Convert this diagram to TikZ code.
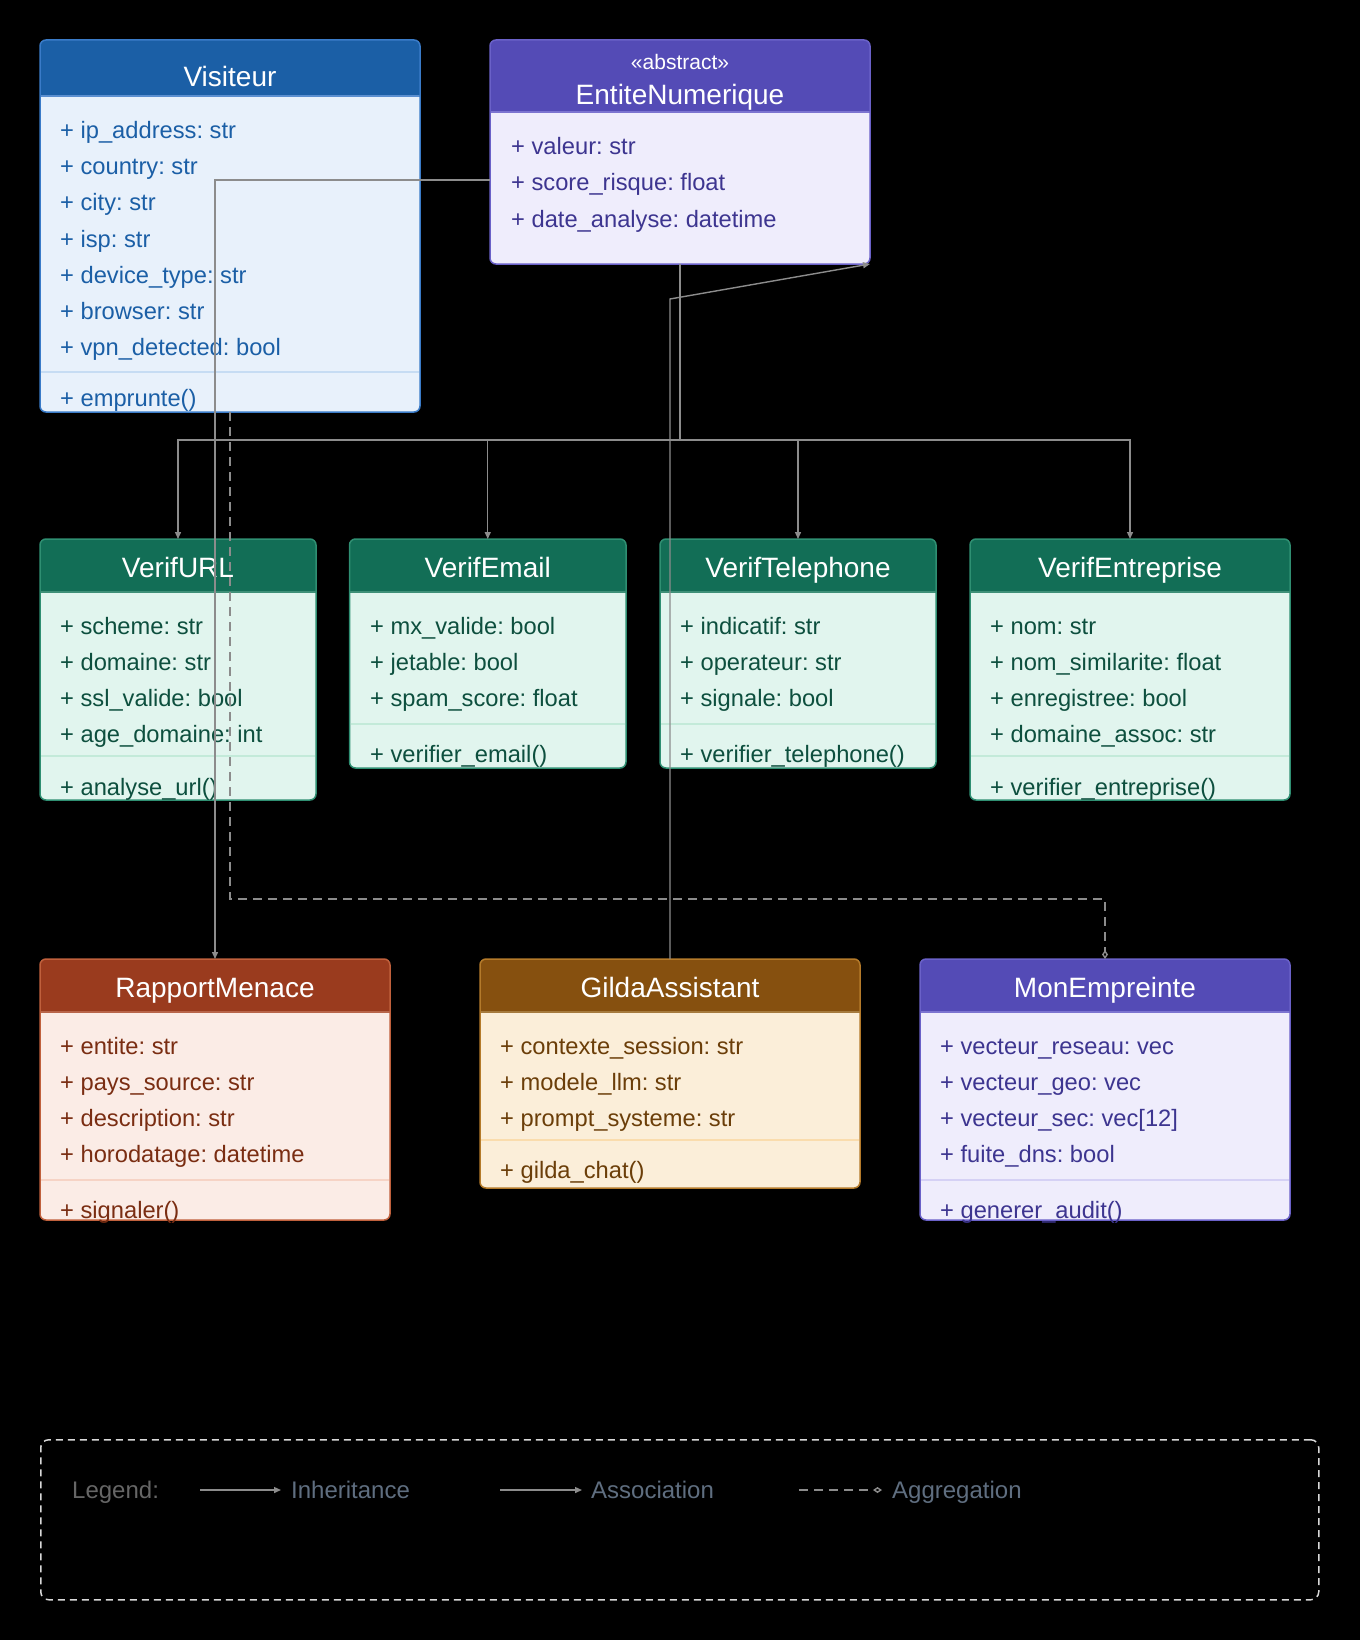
\documentclass[tikz,border=0pt]{standalone}
\usepackage{fontspec}
\setmainfont{Liberation Sans}
\usetikzlibrary{arrows.meta}
\frenchspacing
\definecolor{visbg}{HTML}{E8F1FB}\definecolor{visbd}{HTML}{3A7BC8}\definecolor{vishd}{HTML}{1B5FA6}
\definecolor{vistx}{HTML}{1B5FA6}\definecolor{vissp}{HTML}{C6DCF3}\definecolor{vishl}{HTML}{5B8FD0}
\definecolor{entbg}{HTML}{EFEDFC}\definecolor{entbd}{HTML}{6A61C8}\definecolor{enthd}{HTML}{544BB6}
\definecolor{enttx}{HTML}{3D3590}\definecolor{entsp}{HTML}{D5D1F5}\definecolor{enthl}{HTML}{7C74D0}
\definecolor{verbg}{HTML}{E1F5EE}\definecolor{verbd}{HTML}{2F8F72}\definecolor{verhd}{HTML}{126E56}
\definecolor{vertx}{HTML}{0D4F3E}\definecolor{versp}{HTML}{C3EAD9}\definecolor{verhl}{HTML}{3E8F77}
\definecolor{rapbg}{HTML}{FBECE6}\definecolor{rapbd}{HTML}{C0603C}\definecolor{raphd}{HTML}{9A3B1E}
\definecolor{raptx}{HTML}{7A2D12}\definecolor{rapsp}{HTML}{F6D3C5}\definecolor{raphl}{HTML}{B8654A}
\definecolor{gilbg}{HTML}{FBEED9}\definecolor{gilbd}{HTML}{B47A2A}\definecolor{gilhd}{HTML}{86500F}
\definecolor{giltx}{HTML}{6B3E09}\definecolor{gilsp}{HTML}{FADCAD}\definecolor{gilhl}{HTML}{A57A3E}
\definecolor{cgray}{HTML}{8C8C8C}
\definecolor{legbd}{HTML}{D8D8D8}
\definecolor{legtx}{HTML}{666666}
\definecolor{legtxb}{HTML}{5F6E80}
\tikzset{
  conn/.style={draw=cgray, line width=1.4pt},
  inh/.style={conn, -{Triangle[length=7pt,width=6pt]}},
  assoc/.style={conn, -{Triangle[length=7pt,width=6pt]}},
  aggr/.style={conn, dash pattern=on 9pt off 6pt, -{Diamond[open,length=9pt,width=6pt]}},
  attr/.style={anchor=base west, inner sep=0pt, font=\fontsize{23.7}{28}\selectfont},
  ttl/.style={anchor=base, inner sep=0pt, font=\fontsize{28}{32}\selectfont, text=white},
  stereo/.style={anchor=base, inner sep=0pt, font=\fontsize{21}{24}\selectfont, text=white},
  clsbox/.style={anchor=north west, inner sep=0pt, outer sep=0pt, rounded corners=6pt, draw=none},
  legtext/.style={anchor=base west, inner sep=0pt, font=\fontsize{24}{28}\selectfont}
}
% #1 name, #2 x, #3 y, #4 w, #5 h, #6 header height, #7 theme
\newcommand\umlbox[7]{%
  \node[clsbox, fill=#7bg, minimum width=#4pt, minimum height=#5pt] (#1) at (#2,#3) {};
  \begin{scope}
    \clip[rounded corners=6pt] (#1.north west) rectangle (#1.south east);
    \fill[#7hd] (#1.north west) rectangle ([yshift=-#6pt]#1.north east);
    \draw[#7hl, line width=2pt] ([yshift=-#6pt]#1.north west) -- ([yshift=-#6pt]#1.north east);
  \end{scope}
  \draw[#7bd, line width=1.5pt, rounded corners=6pt] (#1.north west) rectangle (#1.south east);
}
\begin{document}
\begin{tikzpicture}[x=1pt,y=-1pt]
\fill[black] (0,0) rectangle (1360,1640);
\useasboundingbox (0,0) rectangle (1360,1640);

% ---------- Visiteur ----------
\umlbox{vis}{40}{40}{380}{372}{56}{vis}
\node[ttl] (vis-t) at (230,87) {Visiteur};
\node[attr, text=vistx] (vis-a1) at (60,139) {+ ip\_address: str};
\node[attr, text=vistx] (vis-a2) at (60,175) {+ country: str};
\node[attr, text=vistx] (vis-a3) at (60,211) {+ city: str};
\node[attr, text=vistx] (vis-a4) at (60,247) {+ isp: str};
\node[attr, text=vistx] (vis-a5) at (60,283) {+ device\_type: str};
\node[attr, text=vistx] (vis-a6) at (60,319) {+ browser: str};
\node[attr, text=vistx] (vis-a7) at (60,355) {+ vpn\_detected: bool};
\draw[vissp, line width=2pt] (41,372) -- (419,372);
\node[attr, text=vistx] (vis-m1) at (60,406) {+ emprunte()};

% ---------- EntiteNumerique ----------
\umlbox{ent}{490}{40}{380}{224}{72}{ent}
\node[stereo] (ent-s) at (680,69.5) {«abstract»};
\node[ttl] (ent-t) at (680,105) {EntiteNumerique};
\node[attr, text=enttx] (ent-a1) at (511,155) {+ valeur: str};
\node[attr, text=enttx] (ent-a2) at (511,191) {+ score\_risque: float};
\node[attr, text=enttx] (ent-a3) at (511,227) {+ date\_analyse: datetime};

% ---------- VerifURL ----------
\umlbox{url}{40}{539}{276}{261}{53}{ver}
\node[ttl] (url-t) at (178,577) {VerifURL};
\node[attr, text=vertx] (url-a1) at (60,634) {+ scheme: str};
\node[attr, text=vertx] (url-a2) at (60,670) {+ domaine: str};
\node[attr, text=vertx] (url-a3) at (60,706) {+ ssl\_valide: bool};
\node[attr, text=vertx] (url-a4) at (60,742) {+ age\_domaine: int};
\draw[versp, line width=2pt] (41,756) -- (315,756);
\node[attr, text=vertx] (url-m1) at (60,795) {+ analyse\_url()};

% ---------- VerifEmail ----------
\umlbox{email}{349.5}{539}{276.5}{229}{53}{ver}
\node[ttl] (email-t) at (487.75,577) {VerifEmail};
\node[attr, text=vertx] (email-a1) at (370,634) {+ mx\_valide: bool};
\node[attr, text=vertx] (email-a2) at (370,670) {+ jetable: bool};
\node[attr, text=vertx] (email-a3) at (370,706) {+ spam\_score: float};
\draw[versp, line width=2pt] (350.5,724) -- (625,724);
\node[attr, text=vertx] (email-m1) at (370,762) {+ verifier\_email()};

% ---------- VerifTelephone ----------
\umlbox{tel}{660}{539}{276}{229}{53}{ver}
\node[ttl] (tel-t) at (798,577) {VerifTelephone};
\node[attr, text=vertx] (tel-a1) at (680,634) {+ indicatif: str};
\node[attr, text=vertx] (tel-a2) at (680,670) {+ operateur: str};
\node[attr, text=vertx] (tel-a3) at (680,706) {+ signale: bool};
\draw[versp, line width=2pt] (661,724) -- (935,724);
\node[attr, text=vertx] (tel-m1) at (680,762) {+ verifier\_telephone()};

% ---------- VerifEntreprise ----------
\umlbox{entr}{970}{539}{320}{261}{53}{ver}
\node[ttl] (entr-t) at (1130,577) {VerifEntreprise};
\node[attr, text=vertx] (entr-a1) at (990,634) {+ nom: str};
\node[attr, text=vertx] (entr-a2) at (990,670) {+ nom\_similarite: float};
\node[attr, text=vertx] (entr-a3) at (990,706) {+ enregistree: bool};
\node[attr, text=vertx] (entr-a4) at (990,742) {+ domaine\_assoc: str};
\draw[versp, line width=2pt] (971,756) -- (1289,756);
\node[attr, text=vertx] (entr-m1) at (990,795) {+ verifier\_entreprise()};

% ---------- RapportMenace ----------
\umlbox{rap}{40}{959}{350}{261}{53}{rap}
\node[ttl] (rap-t) at (215,997) {RapportMenace};
\node[attr, text=raptx] (rap-a1) at (60,1054) {+ entite: str};
\node[attr, text=raptx] (rap-a2) at (60,1090) {+ pays\_source: str};
\node[attr, text=raptx] (rap-a3) at (60,1126) {+ description: str};
\node[attr, text=raptx] (rap-a4) at (60,1162) {+ horodatage: datetime};
\draw[rapsp, line width=2pt] (41,1180) -- (389,1180);
\node[attr, text=raptx] (rap-m1) at (60,1218) {+ signaler()};

% ---------- GildaAssistant ----------
\umlbox{gilda}{480}{959}{380}{229}{53}{gil}
\node[ttl] (gilda-t) at (670,997) {GildaAssistant};
\node[attr, text=giltx] (gilda-a1) at (500,1054) {+ contexte\_session: str};
\node[attr, text=giltx] (gilda-a2) at (500,1090) {+ modele\_llm: str};
\node[attr, text=giltx] (gilda-a3) at (500,1126) {+ prompt\_systeme: str};
\draw[gilsp, line width=2pt] (481,1140) -- (859,1140);
\node[attr, text=giltx] (gilda-m1) at (500,1178) {+ gilda\_chat()};

% ---------- MonEmpreinte ----------
\umlbox{emp}{920}{959}{370}{261}{53}{ent}
\node[ttl] (emp-t) at (1105,997) {MonEmpreinte};
\node[attr, text=enttx] (emp-a1) at (940,1054) {+ vecteur\_reseau: vec};
\node[attr, text=enttx] (emp-a2) at (940,1090) {+ vecteur\_geo: vec};
\node[attr, text=enttx] (emp-a3) at (940,1126) {+ vecteur\_sec: vec[12]};
\node[attr, text=enttx] (emp-a4) at (940,1162) {+ fuite\_dns: bool};
\draw[entsp, line width=2pt] (921,1180) -- (1289,1180);
\node[attr, text=enttx] (emp-m1) at (940,1218) {+ generer\_audit()};

% ---------- Connectors ----------
\coordinate (bus) at (680,440);
\draw[inh] (ent.south) -- (bus) -| (url.north);
\draw[inh] (ent.south) -- (bus) -| (email.north);
\draw[inh] (ent.south) -- (bus) -| (tel.north);
\draw[inh] (ent.south) -- (bus) -| (entr.north);

\draw[assoc] ([yshift=-28pt]ent.west) -| (rap.north);

\coordinate (gbend) at (670,299);
\draw[assoc] (gilda.north) -- (gbend) -- (ent.south east);

\coordinate (aggy) at (230,899);
\draw[aggr] (vis.south) -- (aggy) -| (emp.north);

% ---------- Legend ----------
\node[draw=legbd, line width=1.5pt, dash pattern=on 7pt off 5pt, rounded corners=8pt,
      anchor=north west, inner sep=0pt, minimum width=1278pt, minimum height=160pt] (legend) at (40,1439) {};
\node[legtext, text=legtx] (leg-l) at (72,1498.5) {Legend:};
\coordinate (li1) at (200,1490); \coordinate (li2) at (281,1490);
\draw[inh] (li1) -- (li2);
\node[legtext, text=legtxb] (leg-i) at (291,1498.5) {Inheritance};
\coordinate (la1) at (500,1490); \coordinate (la2) at (582,1490);
\draw[assoc] (la1) -- (la2);
\node[legtext, text=legtxb] (leg-a) at (591,1498.5) {Association};
\coordinate (lg1) at (799,1490); \coordinate (lg2) at (882,1490);
\draw[aggr] (lg1) -- (lg2);
\node[legtext, text=legtxb] (leg-g) at (892,1498.5) {Aggregation};
\end{tikzpicture}
\end{document}
